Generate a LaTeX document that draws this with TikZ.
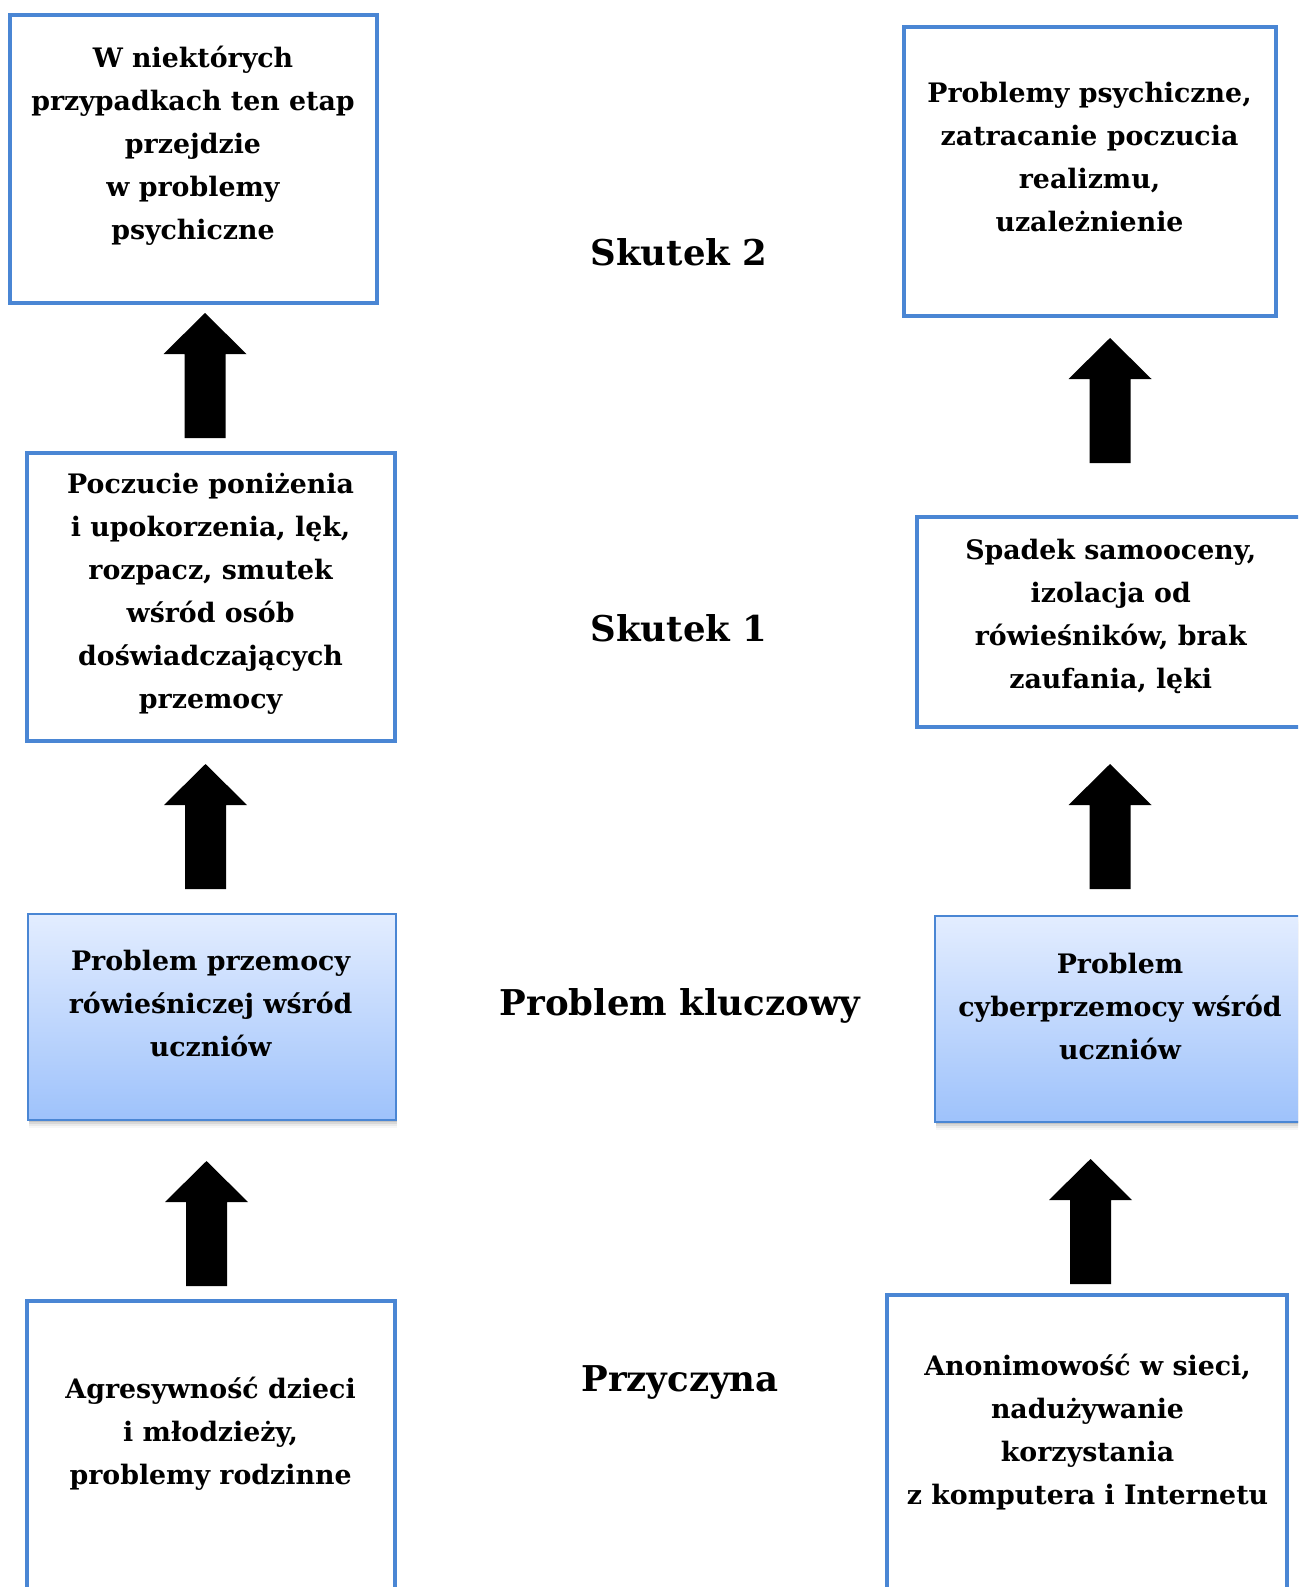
\documentclass[tikz,border=0pt]{standalone}
\usepackage{fontspec}
\setmainfont{DejaVu Serif}
\usetikzlibrary{calc}
\definecolor{bordblue}{RGB}{74,134,212}
\definecolor{gtop}{RGB}{227,237,255}
\definecolor{gbot}{RGB}{158,194,251}
\tikzset{
  plainbox/.style={draw=bordblue, line width=4pt, fill=white, inner sep=0pt, rectangle},
  gradbox/.style={draw=bordblue, line width=2pt, top color=gtop, bottom color=gbot, inner sep=0pt, rectangle},
  boxtext/.style={align=center, inner sep=0pt, font=\bfseries\fontsize{26.8}{43}\selectfont},
  levellabel/.style={inner sep=0pt, font=\bfseries\fontsize{35.5}{40}\selectfont},
  blockarrow/.style={fill=black}
}
\newcommand\myblockarrow[1]{%
  \path[blockarrow] ($(#1)+(-20.5,0)$) -- ++(0,-84) -- ++(-21,0) -- ($(#1)+(0,-125)$)
    -- ($(#1)+(41.5,-84)$) -- ++(-21,0) -- ($(#1)+(20.5,0)$) -- cycle;}
\newcommand\myshadow[1]{%
  \foreach \d/\o in {2/0.10,4/0.08,6/0.05,8/0.03}{
    \fill[black, opacity=\o] ($(#1.north west)+(1,\d)$) rectangle ($(#1.south east)+(1,\d)$);
  }}
\begin{document}
\begin{tikzpicture}[x=1pt,y=-1pt]
\useasboundingbox (0,0) rectangle (1298,1587);
\clip (0,0) rectangle (1298,1587);

% Skutek 2
\node[plainbox, minimum width=367pt, minimum height=288pt] (A) at (193,159) {};
\node[boxtext] (At) at (193,146) {W niektórych\\przypadkach ten etap\\przejdzie\\w problemy\\psychiczne};
\node[plainbox, minimum width=372pt, minimum height=289pt] (B) at (1090,171.6) {};
\node[boxtext] (Bt) at (1089.5,157.5) {Problemy psychiczne,\\zatracanie poczucia\\realizmu,\\uzależnienie};

% Skutek 1
\node[plainbox, minimum width=367.6pt, minimum height=288.5pt] (C) at (211,597) {};
\node[boxtext] (Ct) at (210.6,594) {Poczucie poniżenia\\i upokorzenia, lęk,\\rozpacz, smutek\\wśród osób\\doświadczających\\przemocy};
\node[plainbox, minimum width=388pt, minimum height=210pt] (D) at (1111,622) {};
\node[boxtext] (Dt) at (1110.7,616.5) {Spadek samooceny,\\izolacja od\\rówieśników, brak\\zaufania, lęki};

% Problem kluczowy
\node[rectangle, minimum width=367.7pt, minimum height=206pt, inner sep=0pt] (Es) at (211.8,1017) {};
\myshadow{Es}
\node[gradbox, minimum width=367.7pt, minimum height=206pt] (E) at (211.8,1017) {};
\node[boxtext] (Et) at (210.6,1003.5) {Problem przemocy\\rówieśniczej wśród\\uczniów};
\node[rectangle, minimum width=370pt, minimum height=206pt, inner sep=0pt] (Fs) at (1120,1019) {};
\myshadow{Fs}
\node[gradbox, minimum width=370pt, minimum height=206pt] (F) at (1120,1019) {};
\node[boxtext] (Ft) at (1120,1006.5) {Problem\\cyberprzemocy wśród\\uczniów};

% Przyczyna
\node[plainbox, minimum width=367.6pt, minimum height=360pt] (G) at (211,1481) {};
\node[boxtext] (Gt) at (210.6,1434) {Agresywność dzieci\\i młodzieży,\\problemy rodzinne};
\node[plainbox, minimum width=400pt, minimum height=360pt] (H) at (1087,1475) {};
\node[boxtext] (Ht) at (1087.5,1432) {Anonimowość w sieci,\\nadużywanie\\korzystania\\z komputera i Internetu};

% level labels
\node[levellabel] (L2) at (679,252) {Skutek 2};
\node[levellabel] (L1) at (679,628) {Skutek 1};
\node[levellabel] (LP) at (680,1006) {Problem kluczowy};
\node[levellabel] (LC) at (680,1382) {Przyczyna};

% arrows
\coordinate (a1) at (205,438);
\coordinate (a2) at (205.5,889);
\coordinate (a3) at (206.5,1286);
\coordinate (a4) at (1110,463);
\coordinate (a5) at (1110,889);
\coordinate (a6) at (1090.5,1284);
\myblockarrow{a1}
\myblockarrow{a2}
\myblockarrow{a3}
\myblockarrow{a4}
\myblockarrow{a5}
\myblockarrow{a6}
\end{tikzpicture}
\end{document}
